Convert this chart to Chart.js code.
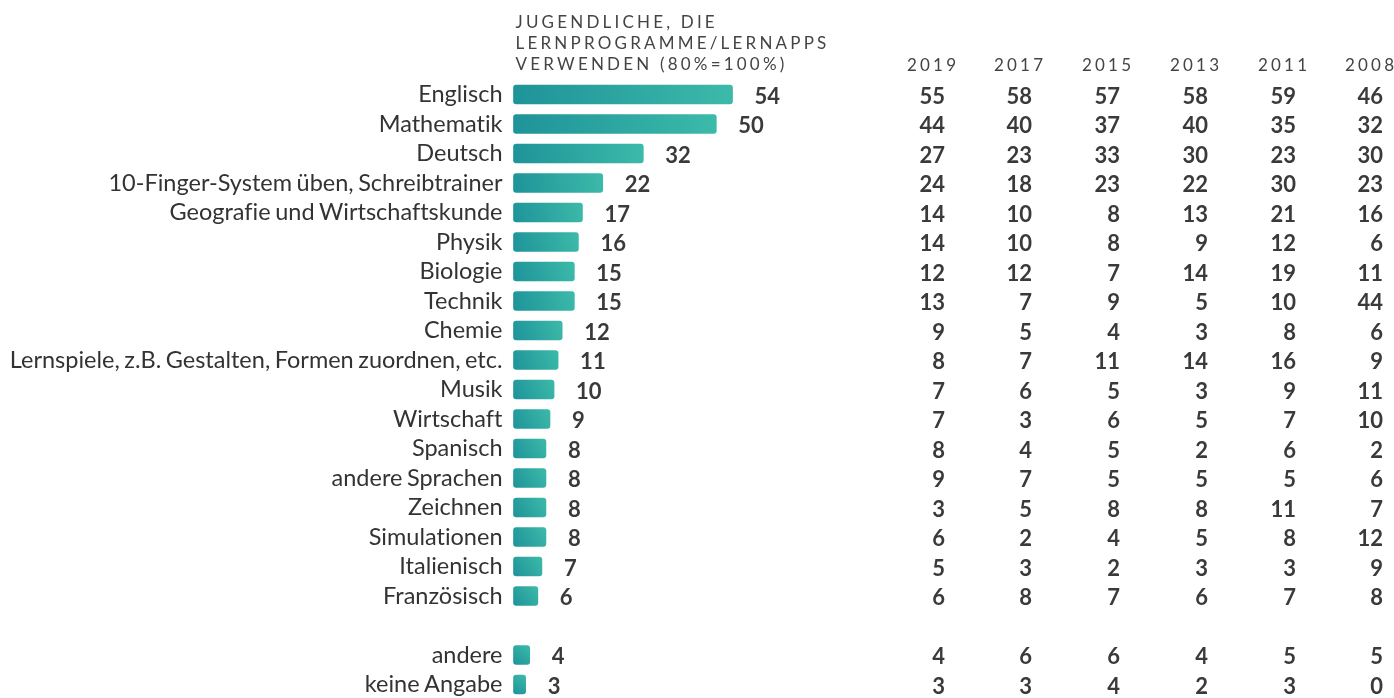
<!DOCTYPE html>
<html>
<head>
<meta charset="utf-8">
<script src="https://cdn.jsdelivr.net/npm/chart.js@4.4.1/dist/chart.umd.min.js"></script>
<style>
  html, body { margin: 0; padding: 0; background: #ffffff; }
  #wrap { width: 1394px; height: 698px; position: relative; }
</style>
</head>
<body>
<div id="wrap"><canvas id="c"></canvas></div>
<script>
const categories = ["Englisch","Mathematik","Deutsch","10-Finger-System üben, Schreibtrainer","Geografie und Wirtschaftskunde","Physik","Biologie","Technik","Chemie","Lernspiele, z.B. Gestalten, Formen zuordnen, etc.","Musik","Wirtschaft","Spanisch","andere Sprachen","Zeichnen","Simulationen","Italienisch","Französisch","","andere","keine Angabe"];
const current = [54,50,32,22,17,16,15,15,12,11,10,9,8,8,8,8,7,6,null,4,3];
const y2019 = [55,44,27,24,14,14,12,13,9,8,7,7,8,9,3,6,5,6,null,4,3];
const y2017 = [58,40,23,18,10,10,12,7,5,7,6,3,4,7,5,2,3,8,null,6,3];
const y2015 = [57,37,33,23,8,8,7,9,4,11,5,6,5,5,8,4,2,7,null,6,4];
const y2013 = [58,40,30,22,13,9,14,5,3,14,3,5,2,5,8,5,3,6,null,4,2];
const y2011 = [59,35,23,30,21,12,19,10,8,16,9,7,6,5,11,8,3,7,null,5,3];
const y2008 = [46,32,30,23,16,6,11,44,6,9,11,10,2,6,7,12,9,8,null,5,0];
const yearLabels = ["2019","2017","2015","2013","2011","2008"];
const yearSeries = [y2019, y2017, y2015, y2013, y2011, y2008];
const titleLines = ["JUGENDLICHE, DIE", "LERNPROGRAMME/LERNAPPS", "VERWENDEN (80%=100%)"];
const axisMax = 80;

const colRight = [945, 1032, 1120, 1208, 1296, 1383];
const TEXT = '#3a3a3a';

function spacedText(ctx, text, x, y, spacing, align) {
  let total = 0;
  const widths = [];
  for (const ch of text) { const w = ctx.measureText(ch).width; widths.push(w); total += w; }
  total += spacing * (text.length - 1);
  let cx = x;
  if (align === 'center') cx = x - total / 2;
  else if (align === 'right') cx = x - total;
  ctx.textAlign = 'left';
  let i = 0;
  for (const ch of text) { ctx.fillText(ch, cx, y); cx += widths[i++] + spacing; }
}

const tightWords = {
  id: 'tightWords',
  beforeDraw(chart) {
    const c = chart.ctx;
    if ('wordSpacing' in c) c.wordSpacing = '-1.5px';
    if ('textRendering' in c) c.textRendering = 'optimizeSpeed';
  },
  afterDraw(chart) {
    const c = chart.ctx;
    if ('wordSpacing' in c) c.wordSpacing = '0px';
  }
};

const overlay = {
  id: 'overlay',
  afterDatasetsDraw(chart) {
    const ctx = chart.ctx;
    const ys = chart.scales.y;
    const meta = chart.getDatasetMeta(0);
    ctx.save();
    if ('wordSpacing' in ctx) ctx.wordSpacing = '0px';
    ctx.fillStyle = TEXT;
    ctx.font = 'bold 22px Lato';
    ctx.textBaseline = 'alphabetic';
    ctx.textAlign = 'left';
    meta.data.forEach((el, i) => {
      const v = current[i];
      if (v === null) return;
      ctx.fillText(String(v), el.x + 22, el.y + 9.2);
    });
    // table
    ctx.textAlign = 'right';
    yearSeries.forEach((arr, c) => {
      arr.forEach((v, i) => {
        if (v === null) return;
        ctx.fillText(String(v), colRight[c], ys.getPixelForValue(i) + 9.2);
      });
    });
    // headers
    ctx.font = '17px Lato';
    ctx.fillStyle = '#444';
    yearLabels.forEach((t, c) => {
      spacedText(ctx, t, colRight[c] - 13.5, 70.5, 3.2, 'center');
    });
    titleLines.forEach((t, i) => {
      spacedText(ctx, t, chart.chartArea.left + 2, 27.5 + i * 21.3, 3.2, 'left');
    });
    ctx.restore();
  }
};

const ctxc = document.getElementById('c').getContext('2d');
new Chart(ctxc, {
  type: 'bar',
  data: {
    labels: categories,
    datasets: [{
      data: current,
      barThickness: 19,
      borderRadius: 3,
      borderSkipped: false,
      clip: false,
      backgroundColor: (context) => {
        const chart = context.chart;
        const xs = chart.scales.x, ys = chart.scales.y;
        if (!chart.chartArea || !xs || !ys || context.raw == null) return '#2aa6a1';
        const x0 = xs.getPixelForValue(0);
        const x1 = xs.getPixelForValue(context.raw);
        const yc = ys.getPixelForValue(context.dataIndex);
        const g = chart.ctx.createLinearGradient(x0, yc + 9.5, x1, yc - 9.5);
        g.addColorStop(0, '#1e9399');
        g.addColorStop(1, '#3cbaa9');
        return g;
      }
    }]
  },
  options: {
    indexAxis: 'y',
    responsive: true,
    maintainAspectRatio: false,
    animation: false,
    layout: { padding: { top: 94.5, bottom: 13.5, left: 0, right: 556 } },
    plugins: { legend: { display: false }, tooltip: { enabled: false } },
    scales: {
      x: { min: 0, max: axisMax, display: false },
      y: {
        offset: false,
        grid: { display: false, drawTicks: false },
        border: { display: false },
        ticks: { autoSkip: false, padding: 11, color: '#333', font: { family: 'Lato', size: 23.5 } },
        afterFit: (scale) => { scale.width = 513.5; scale.paddingTop = 0; scale.paddingBottom = 0; }
      }
    }
  },
  plugins: [tightWords, overlay]
});
</script>
</body>
</html>
